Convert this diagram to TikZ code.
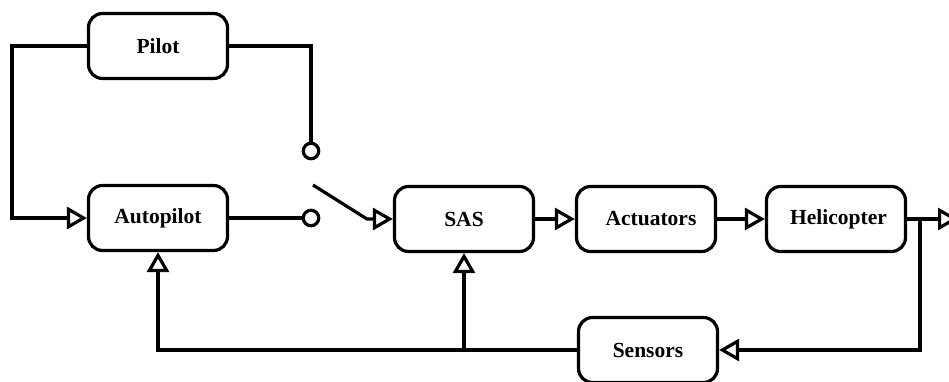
\documentclass[tikz,border=0pt]{standalone}
\usepackage{fontspec}
\setmainfont{Liberation Serif}
\usetikzlibrary{arrows.meta,calc}

\tikzset{
  block/.style={draw, line width=3.2pt, rounded corners=14pt,
    minimum width=139pt, minimum height=65pt, inner sep=0pt,
    font=\fontsize{21.5}{24}\selectfont\bfseries},
  wire/.style={line width=3.2pt},
  flow/.style={wire, -{Triangle[open, length=20pt, width=22pt]}},
  contact/.style={draw, line width=3.2pt, circle, minimum size=15.5pt, inner sep=0pt, fill=white}
}

\begin{document}
\begin{tikzpicture}[x=1pt, y=-1pt]
  \useasboundingbox (0,0) rectangle (949,381);

  % blocks
  \node[block] (pilot) at (158,46)  {Pilot};
  \node[block] (auto)  at (158,218) {Autopilot};
  \node[block] (sas)   at (464,219) {SAS};
  \node[block] (act)   at (646,219) {\hspace*{10pt}Actuators};
  \node[block] (heli)  at (836,219) {\hspace*{5pt}Helicopter};
  \node[block] (sens)  at (648,350) {Sensors};

  % switch contacts
  \node[contact] (c1) at (311,151) {};
  \node[contact] (c2) at (311,218) {};
  \coordinate (blade) at (313,185);
  \coordinate (hinge) at (367,219);

  % left loop: pilot to autopilot
  \coordinate (lcorner) at (12,46);
  \draw[flow] (pilot.west) -- (lcorner) |- (auto.west);

  % pilot to upper contact
  \draw[wire] (pilot.east) -| (c1.north);

  % autopilot to lower contact
  \draw[wire] (auto.east) -- (c2.west);

  % switch blade into SAS
  \draw[flow] (blade) -- (hinge) -- (sas.west);

  % forward path
  \draw[flow] (sas.east) -- (act.west);
  \draw[flow] (act.east) -- (heli.west);
  \coordinate (tap) at (920,219);
  \coordinate (out) at (958,219);
  \draw[flow] (heli.east) -- (out);

  % feedback path
  \draw[flow] (tap) |- (sens.east);
  \draw[flow] (sens.west) -| (auto.south);
  \coordinate (joint) at (sas.south |- sens.west);
  \draw[flow] (joint) -- (sas.south);
\end{tikzpicture}
\end{document}
